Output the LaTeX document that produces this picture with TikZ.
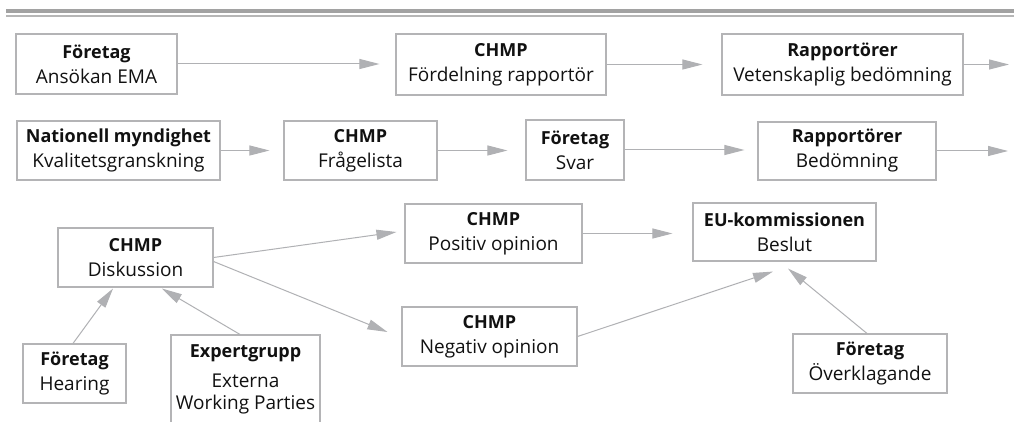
\documentclass[tikz,border=0pt]{standalone}
\usepackage{fontspec}
\setmainfont{Open Sans}
\usetikzlibrary{arrows.meta}
\definecolor{linegray}{HTML}{B0B1B4}
\definecolor{boxgray}{HTML}{B4B4B6}
\definecolor{rulegray}{HTML}{A2A2A2}
\definecolor{rulelight}{HTML}{B6B6B6}
\definecolor{txt}{HTML}{111111}
\newcommand\boxhead[1]{{\fontsize{18}{25}\selectfont\bfseries #1}}
\tikzset{
  box/.style={draw=boxgray, line width=1.1pt, inner sep=0pt, align=center,
    font=\fontsize{19}{25}\selectfont, text=txt},
  conn/.style={draw=linegray, line width=1pt, -{Triangle[length=20pt,width=10pt]}},
}
\begin{document}
\begin{tikzpicture}[x=1pt,y=-1pt]
\clip (0,0) rectangle (1014,422);
\fill[white] (0,0) rectangle (1014,422);
% top rule
\fill[rulegray] (6,9) rectangle (1014,13);
\draw[rulelight, line width=1.3pt] (6,16) -- (1014,16);

% row 1
\node[box, minimum width=161pt, minimum height=60pt] (A) at (96.5,64) {\boxhead{Företag}\\Ansökan EMA};
\node[box, minimum width=210pt, minimum height=61pt] (B) at (501,64.5) {\boxhead{CHMP}\\Fördelning rapportör};
\node[box, minimum width=241pt, minimum height=61pt] (C) at (842.5,64.5) {\boxhead{Rapportörer}\\Vetenskaplig bedömning};
\coordinate (c1) at (1009,64.5);

% row 2
\node[box, minimum width=203pt, minimum height=59pt] (D) at (118.5,150.5) {\boxhead{Nationell myndighet}\\Kvalitetsgranskning};
\node[box, minimum width=153pt, minimum height=59pt] (E) at (360.5,150.5) {\boxhead{CHMP}\\Frågelista};
\node[box, minimum width=98pt, minimum height=60pt] (F) at (575,150) {\boxhead{Företag}\\Svar};
\node[box, minimum width=178pt, minimum height=58pt] (G) at (847,151) {\boxhead{Rapportörer}\\Bedömning};
\coordinate (g1) at (1008,151);

% row 3
\node[box, minimum width=155pt, minimum height=59pt] (H) at (135.5,257.5) {\boxhead{CHMP}\\Diskussion};
\node[box, minimum width=177pt, minimum height=59pt] (P) at (493.5,233.5) {\boxhead{CHMP}\\Positiv opinion};
\node[box, minimum width=175pt, minimum height=59pt] (N) at (489.5,336.5) {\boxhead{CHMP}\\Negativ opinion};
\node[box, minimum width=183pt, minimum height=58pt] (K) at (784.5,232) {\boxhead{EU-kommissionen}\\Beslut};
\node[box, minimum width=103pt, minimum height=59pt] (Hear) at (74.5,373.5) {\boxhead{Företag}\\Hearing};
\node[box, minimum width=149pt, minimum height=89pt] (Exp) at (245.5,379.5) {\boxhead{Expertgrupp}\\[5pt]Externa\\[-3pt]Working Parties};
\node[box, minimum width=154pt, minimum height=59pt] (Ov) at (870,363.5) {\boxhead{Företag}\\Överklagande};

% connectors row 1
\draw[conn, shorten >=16pt] (A.east) -- (A.east -| B.west);
\draw[conn, shorten >=19pt] (B.east) -- (B.east -| C.west);
\draw[conn] (C.east) -- (c1);
% connectors row 2
\draw[conn, shorten >=14pt] (D.east) -- (D.east -| E.west);
\draw[conn, shorten >=18pt] (E.east) -- (E.east -| F.west);
\draw[conn, shorten >=13pt] (F.east) -- (F.east -| G.west);
\draw[conn] (G.east) -- (g1);
% connectors row 3
\draw[conn] (H.east) -- ([xshift=-8pt,yshift=1.5pt]P.west);
\draw[conn] ([yshift=-4pt]H.east) -- ([xshift=-14pt,yshift=4.5pt]N.west);
\draw[conn, shorten >=20pt] (P.east) -- (P.east -| K.west);
\draw[conn] (N.east) -- ([xshift=-11.5pt,yshift=-10pt]K.south);
\draw[conn] ([xshift=-1.5pt]Hear.north) -- ([xshift=-22.5pt,yshift=-1pt]H.south);
\draw[conn] ([xshift=-5.5pt]Exp.north) -- ([xshift=26.5pt,yshift=-1pt]H.south);
\draw[conn] ([xshift=-3pt]Ov.north) -- ([xshift=3.5pt,yshift=-7pt]K.south);
\end{tikzpicture}
\end{document}
